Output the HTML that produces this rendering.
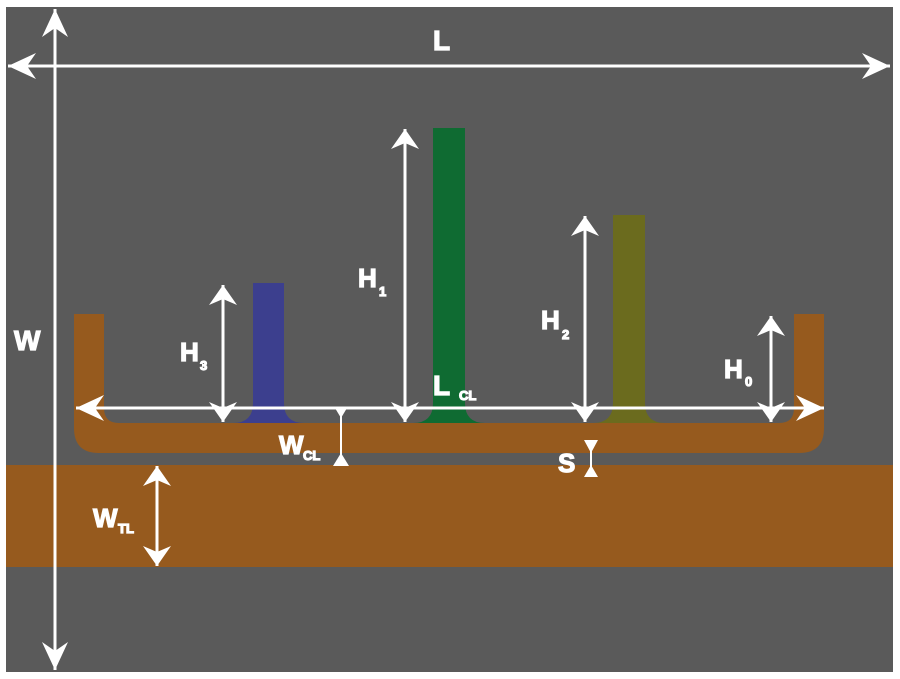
<!DOCTYPE html>
<html><head><meta charset="utf-8"><style>
html,body{margin:0;padding:0;background:#fff;}
svg{display:block}
text{font-family:"Liberation Sans",Arial,sans-serif;font-weight:bold;fill:#fff;stroke:#fff;stroke-width:1.2}
</style></head><body>
<svg width="900" height="679" viewBox="0 0 900 679" xmlns="http://www.w3.org/2000/svg">
<defs>
<marker id="a" viewBox="-30 -15 32 30" markerWidth="32" markerHeight="30" refX="0" refY="0" orient="auto-start-reverse" markerUnits="userSpaceOnUse">
<path d="M0,0 L-28,-13 L-19,0 L-28,13 Z" fill="#fff"/>
</marker>
<marker id="b" viewBox="-22 -15 24 30" markerWidth="24" markerHeight="30" refX="0" refY="0" orient="auto-start-reverse" markerUnits="userSpaceOnUse">
<path d="M0,0 L-20,-14 L-14,0 L-20,14 Z" fill="#fff"/>
</marker>
</defs>
<rect x="6" y="7" width="887" height="665" fill="#5a5a5a"/>
<rect x="6" y="465" width="887" height="102" fill="#965a1e"/>
<path d="M74,314 H104 V408 Q104,423 119,423 H779 Q794,423 794,408 V314 H824 V428 Q824,453 799,453 H99 Q74,453 74,428 Z" fill="#965a1e"/>
<path d="M253,283 H284 V403 Q284,423 304,423 H233 Q253,423 253,403 Z" fill="#3c3f8e"/>
<path d="M433,128 H465 V403 Q465,423 485,423 H413 Q433,423 433,403 Z" fill="#0f6b32"/>
<path d="M613,215 H645 V403 Q645,423 665,423 H593 Q613,423 613,403 Z" fill="#6b6b1e"/>
<g stroke="#fff" stroke-width="3" fill="none">
<line x1="8" y1="66" x2="890" y2="66" marker-start="url(#a)" marker-end="url(#a)"/>
<line x1="55" y1="9" x2="55" y2="670" marker-start="url(#a)" marker-end="url(#a)"/>
<line x1="76" y1="408" x2="824" y2="408" marker-start="url(#a)" marker-end="url(#a)"/>
<line x1="223" y1="285" x2="223" y2="422" marker-start="url(#b)" marker-end="url(#b)"/>
<line x1="405" y1="129" x2="405" y2="422" marker-start="url(#b)" marker-end="url(#b)"/>
<line x1="585" y1="216" x2="585" y2="422" marker-start="url(#b)" marker-end="url(#b)"/>
<line x1="771" y1="316" x2="771" y2="422" marker-start="url(#b)" marker-end="url(#b)"/>
<line x1="157" y1="466" x2="157" y2="566" marker-start="url(#b)" marker-end="url(#b)"/>
<line x1="341" y1="410" x2="341" y2="465" stroke-width="2"/>
<line x1="591" y1="442" x2="591" y2="476" stroke-width="2"/>
</g>
<g fill="#fff">
<path d="M335,408 H347 L341,418 Z"/>
<path d="M333,466 H349 L341,453 Z"/>
<path d="M584,440 H598 L591,453 Z"/>
<path d="M584,477 H598 L591,465 Z"/>
</g>
<text x="433" y="50" font-size="28">L</text>
<text x="14" y="350" font-size="28">W</text>
<text x="180" y="361" font-size="26">H</text><text x="200" y="370" font-size="13">3</text>
<text x="358" y="287" font-size="26">H</text><text x="379" y="296" font-size="13">1</text>
<text x="541" y="329" font-size="26">H</text><text x="562" y="339" font-size="13">2</text>
<text x="724" y="378" font-size="26">H</text><text x="745" y="386" font-size="13">0</text>
<text x="433" y="395" font-size="28">L</text><text x="459" y="400" font-size="13">CL</text>
<text x="279" y="454" font-size="26">W</text><text x="303" y="460" font-size="13">CL</text>
<text x="558" y="472" font-size="26">S</text>
<text x="93" y="527" font-size="26">W</text><text x="118" y="533" font-size="13">TL</text>
</svg>
</body></html>
